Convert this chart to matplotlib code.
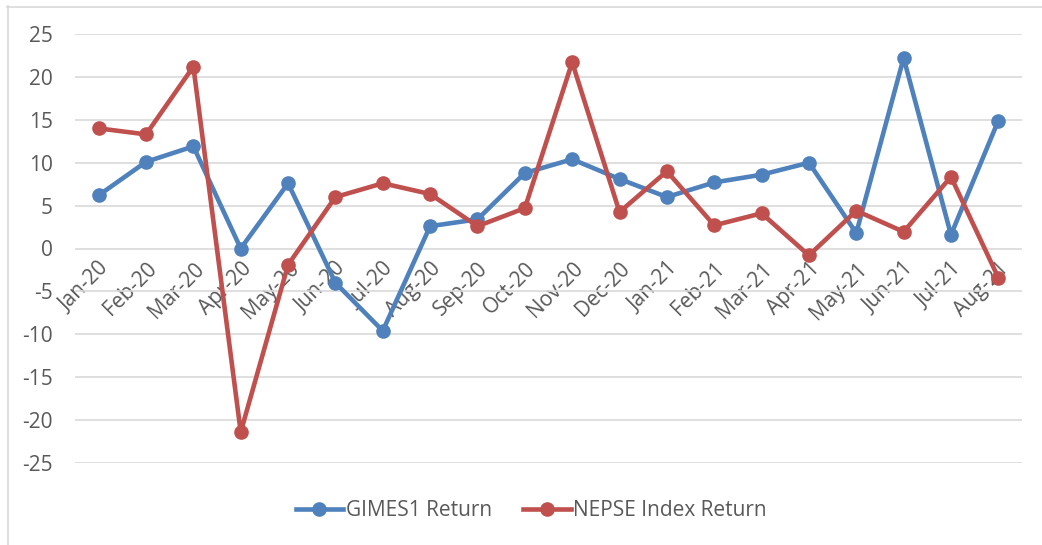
import matplotlib
matplotlib.use("Agg")
import matplotlib.pyplot as plt
from matplotlib.lines import Line2D

months = ["Jan-20", "Feb-20", "Mar-20", "Apr-20", "May-20", "Jun-20", "Jul-20", "Aug-20",
          "Sep-20", "Oct-20", "Nov-20", "Dec-20", "Jan-21", "Feb-21", "Mar-21", "Apr-21",
          "May-21", "Jun-21", "Jul-21", "Aug-21"]
gimes1_return = [6.2, 10.1, 11.9, 0.0, 7.6, -4.0, -9.6, 2.6, 3.4, 8.8, 10.4, 8.1,
                 6.0, 7.7, 8.6, 10.0, 1.8, 22.2, 1.6, 14.9]
nepse_return = [14.0, 13.3, 21.2, -21.4, -1.9, 6.0, 7.6, 6.35, 2.6, 4.7, 21.7, 4.25,
                9.0, 2.7, 4.1, -0.8, 4.4, 1.95, 8.35, -3.4]
yticks = [25, 20, 15, 10, 5, 0, -5, -10, -15, -20, -25]

W, H = 1042, 545
fig = plt.figure(figsize=(W / 100, H / 100), dpi=100)
plt.rcParams['font.family'] = ['Open Sans', 'DejaVu Sans']
txt = '#595959'
fs = 15

ax = fig.add_axes([75 / W, 1 - 463 / H, (1022 - 75) / W, (463 - 34) / H])
x = list(range(len(months)))
blue = '#4F81BD'
red = '#C0504D'
ax.plot(x, gimes1_return, color=blue, lw=3.3, marker='o', ms=9.5, label='GIMES1 Return',
        solid_capstyle='round', solid_joinstyle='round', zorder=3)
ax.plot(x, nepse_return, color=red, lw=3.3, marker='o', ms=9.5, label='NEPSE Index Return',
        solid_capstyle='round', solid_joinstyle='round', zorder=4)

ax.set_xlim(-0.5, len(months) - 0.5)
ax.set_ylim(-25, 25)
ax.set_yticks(yticks)
ax.set_yticklabels([str(v) for v in yticks])
ax.grid(axis='y', color='#D9D9D9', lw=1.2)
ax.set_axisbelow(True)
for s in ['top', 'right', 'left']:
    ax.spines[s].set_visible(False)
ax.spines['bottom'].set_position(('data', 0))
ax.spines['bottom'].set_visible(False)
ax.set_xticks(x)
ax.set_xticklabels(months, rotation=45, ha='right', va='top', rotation_mode='anchor')
ax.tick_params(axis='x', length=0, pad=7, labelsize=fs, labelcolor=txt)
ax.tick_params(axis='y', length=0, pad=16, labelsize=fs, labelcolor=txt)

handles = [Line2D([0], [0], color=blue, lw=3.3, marker='o', ms=9.5),
           Line2D([0], [0], color=red, lw=3.3, marker='o', ms=9.5)]
fig.legend(handles, ['GIMES1 Return', 'NEPSE Index Return'], loc='center',
           bbox_to_anchor=(531 / W, 1 - 511 / H), ncol=2, frameon=False,
           fontsize=fs, labelcolor=txt, handlelength=2.3, handletextpad=0.1,
           columnspacing=1.5)

fig.add_artist(Line2D([7 / W, 1], [1 - 6.5 / H, 1 - 6.5 / H], color='#D9D9D9', lw=1.2))
fig.add_artist(Line2D([7.5 / W, 7.5 / W], [0, 1 - 6 / H], color='#D9D9D9', lw=1.2))

fig.savefig('out.png', dpi=100)
